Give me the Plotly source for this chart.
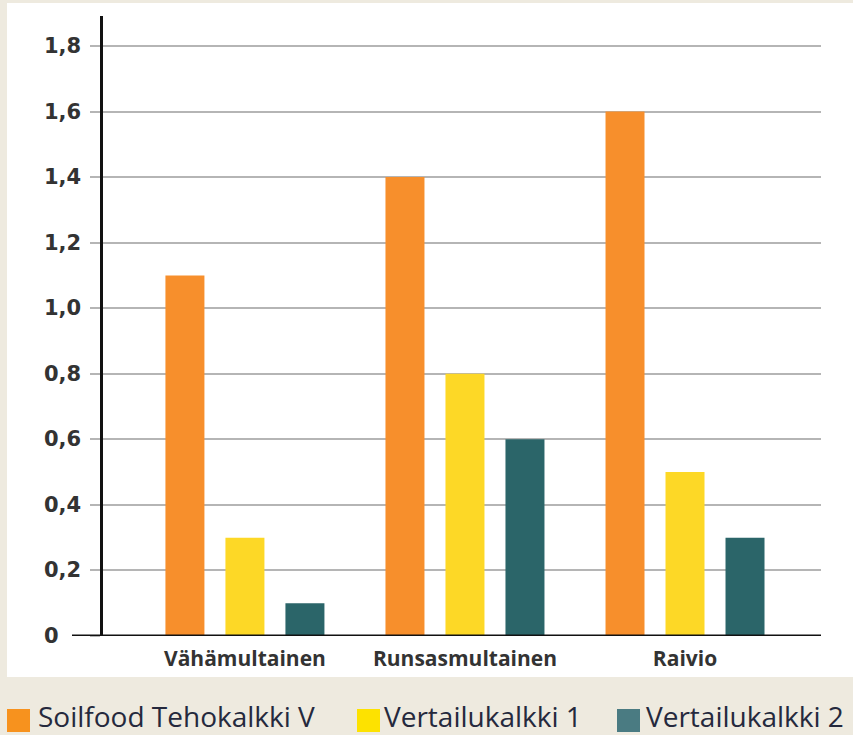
import plotly.graph_objects as go

categories = ["Vähämultainen", "Runsasmultainen", "Raivio"]
series_names = ["Soilfood Tehokalkki V", "Vertailukalkki 1", "Vertailukalkki 2"]
soilfood = [1.1, 1.4, 1.6]
vertailu1 = [0.3, 0.8, 0.5]
vertailu2 = [0.1, 0.6, 0.3]
tick_vals = [0, 0.2, 0.4, 0.6, 0.8, 1.0, 1.2, 1.4, 1.6, 1.8]
tick_text = ["0", "0,2", "0,4", "0,6", "0,8", "1,0", "1,2", "1,4", "1,6", "1,8"]

bar_colors = ["#f78f2c", "#fdd826", "#2b6569"]
legend_colors = ["#f7921e", "#fde200", "#4a7b82"]

W, H = 853, 735
L, R, T, B = 103, 32, 16, 99
pw, ph = W - L - R, H - T - B


def px_x(px):
    return (px - L) / pw


def px_y(py):
    return (H - B - py) / ph


fig = go.Figure()
for name, vals, col in zip(series_names, [soilfood, vertailu1, vertailu2], bar_colors):
    fig.add_trace(go.Bar(x=categories, y=vals, name=name, marker=dict(color=col, line=dict(width=0)),
                         showlegend=False))

shapes = [
    dict(type="rect", xref="paper", yref="paper", x0=px_x(7), x1=px_x(860), y0=px_y(677), y1=px_y(3),
         fillcolor="white", line=dict(width=0), layer="below"),
    dict(type="line", xref="paper", yref="y", x0=px_x(72), x1=px_x(821), y0=0, y1=0,
         line=dict(color="#111111", width=3)),
]
annotations = []
for v, t in zip(tick_vals, tick_text):
    annotations.append(dict(xref="paper", yref="y", x=px_x(42), y=v, text=t, showarrow=False,
                            xanchor="left", yanchor="middle",
                            font=dict(family="DejaVu Sans", size=21, color="#333333", weight="bold")))
leg_sq = [7, 357, 617]
leg_tx = [36, 382, 644]
for name, col, sx, tx in zip(series_names, legend_colors, leg_sq, leg_tx):
    shapes.append(dict(type="rect", xref="paper", yref="paper", x0=px_x(sx), x1=px_x(sx + 23),
                       y0=px_y(732), y1=px_y(709), fillcolor=col, line=dict(width=0)))
    annotations.append(dict(xref="paper", yref="paper", x=px_x(tx), y=px_y(716), text=name,
                            showarrow=False, xanchor="left", yanchor="middle",
                            font=dict(family="Open Sans", size=28, color="#25293d")))

fig.update_layout(
    width=W, height=H,
    margin=dict(l=L, r=R, t=T, b=B),
    paper_bgcolor="#eeeadf",
    plot_bgcolor="white",
    barmode="group",
    bargap=0.182,
    bargroupgap=0.35,
    shapes=shapes,
    annotations=annotations,
    xaxis=dict(range=[-0.645, 2.618], showline=False, showgrid=False, ticks="",
               tickfont=dict(family="Open Sans", size=21, color="#333333", weight="bold"),
               ticklabelstandoff=8),
    yaxis=dict(range=[0, 1.8915], tickvals=tick_vals, showticklabels=False,
               showline=True, linecolor="#111111", linewidth=3,
               showgrid=True, gridcolor="#b5b5b5", gridwidth=1.5,
               ticks="outside", ticklen=10, tickcolor="#b5b5b5", tickwidth=1.5,
               zeroline=False),
)

fig.write_html(
    "out.html",
    config={"displayModeBar": False},
    post_script="document.body.style.margin='0';document.body.style.background='#eeeadf';",
)
